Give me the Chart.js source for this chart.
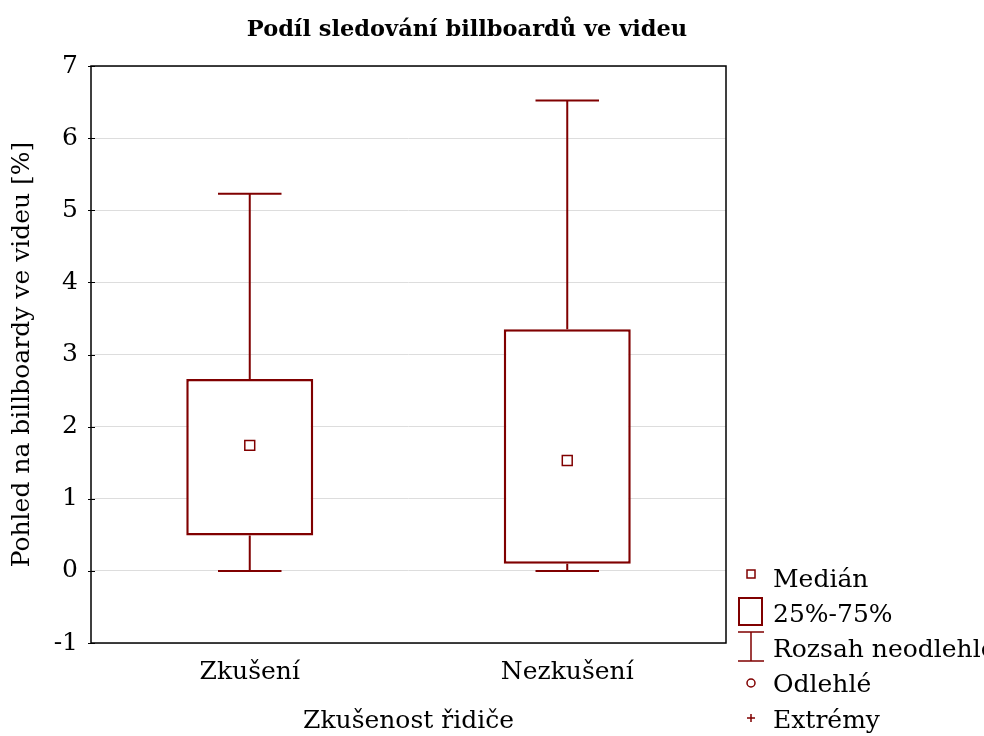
<!DOCTYPE html>
<html>
<head>
<meta charset="utf-8">
<script src="https://cdn.jsdelivr.net/npm/chart.js@4.4.1/dist/chart.umd.min.js"></script>
<style>
  html, body { margin: 0; padding: 0; background: #fff; overflow: hidden; }
  #wrap { width: 984px; height: 736px; }
</style>
</head>
<body>
<div id="wrap"><canvas id="boxChart" width="984" height="736"></canvas></div>
<script>
// -------------------- DATA --------------------
const groups = ['Zkušení', 'Nezkušení'];

const medians = [1.74, 1.53];      // %
const q1 = [0.49, 0.10];           // 25 %
const q3 = [2.66, 3.35];           // 75 %
const whiskerMin = [0.0, 0.0];     // non-outlier min
const whiskerMax = [5.23, 6.52];   // non-outlier max

const yTicks = [-1, 0, 1, 2, 3, 4, 5, 6, 7];

const legendLabels = ['Medián', '25%-75%', 'Rozsah neodlehlé', 'Odlehlé', 'Extrémy'];

const DARK_RED = '#800000';
const FONT = 'DejaVu Serif';

// -------------------- PLUGINS --------------------
// whiskers drawn from the data arrays through the chart scales
const whiskerPlugin = {
    id: 'whiskers',
    beforeDatasetsDraw(chart) {
        const ctx = chart.ctx;
        const x = chart.scales.x, y = chart.scales.y;
        const boxMeta = chart.getDatasetMeta(0);
        ctx.save();
        ctx.strokeStyle = DARK_RED;
        ctx.lineWidth = 2;
        groups.forEach((g, i) => {
            const cx = x.getPixelForValue(i);
            const half = boxMeta.data[i].width / 4;
            const yLo = y.getPixelForValue(whiskerMin[i]);
            const yHi = y.getPixelForValue(whiskerMax[i]);
            const yQ1 = y.getPixelForValue(q1[i]);
            const yQ3 = y.getPixelForValue(q3[i]);
            ctx.beginPath();
            ctx.moveTo(cx, yQ3); ctx.lineTo(cx, yHi);
            ctx.moveTo(cx - half, yHi); ctx.lineTo(cx + half, yHi);
            ctx.moveTo(cx, yQ1); ctx.lineTo(cx, yLo);
            ctx.moveTo(cx - half, yLo); ctx.lineTo(cx + half, yLo);
            ctx.stroke();
        });
        ctx.restore();
    }
};

// black frame around the plot area, with small inner ticks on the y axis
const framePlugin = {
    id: 'frame',
    afterDatasetsDraw(chart) {
        const a = chart.chartArea;
        const y = chart.scales.y;
        const ctx = chart.ctx;
        ctx.save();
        ctx.strokeStyle = '#000';
        ctx.lineWidth = 1.5;
        ctx.strokeRect(a.left, a.top, a.right - a.left, a.bottom - a.top);
        ctx.lineWidth = 1;
        ctx.beginPath();
        yTicks.forEach(v => {
            const py = Math.round(y.getPixelForValue(v)) + 0.5;
            ctx.moveTo(a.left - 3, py); ctx.lineTo(a.left + 4, py);
        });
        ctx.stroke();
        ctx.restore();
    }
};

// legend at bottom right (outside the plot)
const boxLegend = {
    id: 'boxLegend',
    afterDraw(chart) {
        const ctx = chart.ctx;
        const ix = 751, tx = 773;
        const base = [587, 622, 657, 692, 728];
        ctx.save();
        ctx.strokeStyle = DARK_RED;
        ctx.fillStyle = DARK_RED;
        ctx.lineWidth = 1.5;
        // median marker
        ctx.strokeRect(ix - 4, 570, 8, 8);
        // box
        ctx.lineWidth = 2;
        ctx.strokeRect(739, 598, 23, 27);
        // whisker
        ctx.lineWidth = 1.5;
        ctx.beginPath();
        ctx.moveTo(738, 632); ctx.lineTo(764, 632);
        ctx.moveTo(ix, 632); ctx.lineTo(ix, 661);
        ctx.moveTo(738, 661); ctx.lineTo(764, 661);
        ctx.stroke();
        // outlier
        ctx.beginPath();
        ctx.arc(ix, 683, 4, 0, Math.PI * 2);
        ctx.stroke();
        // extreme
        ctx.beginPath();
        ctx.moveTo(ix - 4, 718); ctx.lineTo(ix + 4, 718);
        ctx.moveTo(ix, 714); ctx.lineTo(ix, 722);
        ctx.stroke();

        ctx.fillStyle = '#000';
        ctx.font = '25px "' + FONT + '"';
        ctx.textBaseline = 'alphabetic';
        ctx.textAlign = 'left';
        legendLabels.forEach((t, i) => ctx.fillText(t, tx, base[i]));
        ctx.restore();
    }
};

// -------------------- CHART --------------------
const ctx1 = document.getElementById('boxChart').getContext('2d');
new Chart(ctx1, {
    data: {
        labels: groups,
        datasets: [{
            type: 'bar',
            label: '25%-75%',
            data: q1.map((v, i) => [v, q3[i]]),
            backgroundColor: '#ffffff',
            borderColor: DARK_RED,
            borderWidth: 2.5,
            borderSkipped: false,
            barPercentage: 0.4,
            categoryPercentage: 1.0,
            order: 2
        }, {
            type: 'line',
            label: 'Medián',
            data: medians,
            showLine: false,
            pointStyle: 'rect',
            pointRadius: 7,
            pointBackgroundColor: '#ffffff',
            pointBorderColor: DARK_RED,
            pointBorderWidth: 1.5,
            order: 1
        }]
    },
    options: {
        responsive: false,
        animation: false,
        layout: { padding: { left: 0, right: 50, top: 0, bottom: 0 } },
        plugins: {
            legend: { display: false },
            tooltip: { enabled: false },
            title: {
                display: true,
                text: 'Podíl sledování billboardů ve videu',
                color: '#000',
                font: { family: FONT, size: 22.5, weight: 'bold', lineHeight: 1.2 },
                padding: { top: 17, bottom: 22 }
            }
        },
        scales: {
            x: {
                grid: { display: false, drawTicks: false },
                border: { display: false },
                ticks: { color: '#000', font: { family: FONT, size: 25 }, padding: 14 },
                title: {
                    display: true,
                    text: 'Zkušenost řidiče',
                    color: '#000',
                    font: { family: FONT, size: 25, lineHeight: 1.2 },
                    padding: { top: 0, bottom: 0 }
                },
                afterFit(s) { s.height = 93; }
            },
            y: {
                min: -1,
                max: 7,
                afterBuildTicks(s) { s.ticks = yTicks.map(v => ({ value: v })); },
                grid: { color: '#dddddd', lineWidth: 1, drawTicks: false },
                border: { display: false },
                ticks: { color: '#000', font: { family: FONT, size: 25 }, padding: 13 },
                title: {
                    display: true,
                    text: 'Pohled na billboardy ve videu [%]',
                    color: '#000',
                    font: { family: FONT, size: 25, lineHeight: 1.2 },
                    padding: { top: 7, bottom: 0 }
                },
                afterFit(s) { s.width = 91; }
            },
            yRight: {
                position: 'right',
                min: -1,
                max: 7,
                grid: { display: false, drawTicks: false },
                border: { display: false },
                ticks: { display: false },
                afterFit(s) { s.width = 208; }
            }
        }
    },
    plugins: [whiskerPlugin, framePlugin, boxLegend]
});
</script>
</body>
</html>
